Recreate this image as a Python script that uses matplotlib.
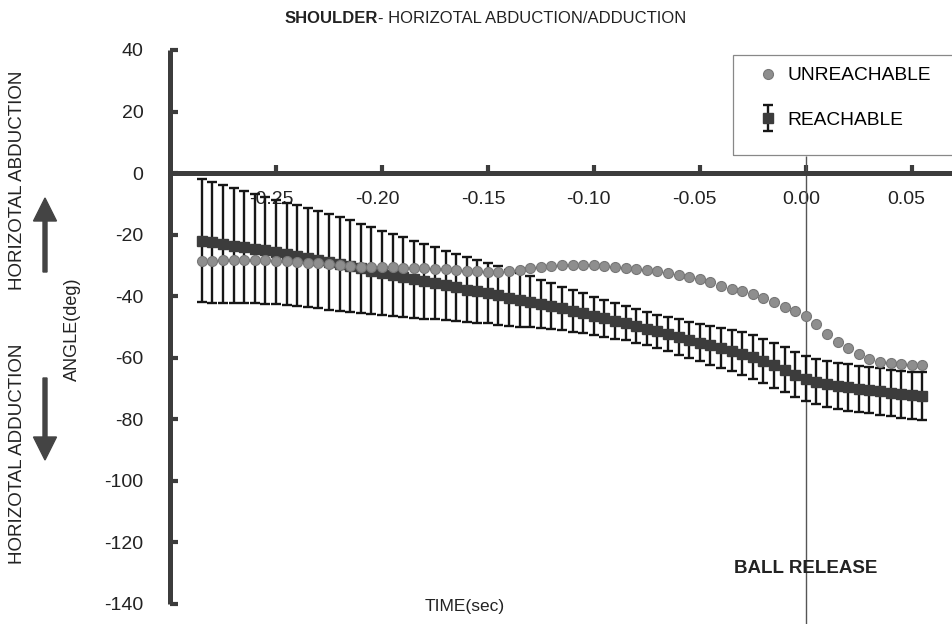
import matplotlib.pyplot as plt
import matplotlib.transforms as mtransforms
from matplotlib.patches import Rectangle, FancyArrow
from matplotlib.container import ErrorbarContainer
from matplotlib.legend_handler import HandlerErrorbar

plt.rcParams['font.family'] = ['Liberation Sans', 'DejaVu Sans']
plt.rcParams['axes.unicode_minus'] = False

# time relative to ball release (sec)
time = [-0.285, -0.280, -0.275, -0.270, -0.265, -0.260, -0.255, -0.250, -0.245, -0.240,
        -0.235, -0.230, -0.225, -0.220, -0.215, -0.210, -0.205, -0.200, -0.195, -0.190,
        -0.185, -0.180, -0.175, -0.170, -0.165, -0.160, -0.155, -0.150, -0.145, -0.140,
        -0.135, -0.130, -0.125, -0.120, -0.115, -0.110, -0.105, -0.100, -0.095, -0.090,
        -0.085, -0.080, -0.075, -0.070, -0.065, -0.060, -0.055, -0.050, -0.045, -0.040,
        -0.035, -0.030, -0.025, -0.020, -0.015, -0.010, -0.005, 0.000, 0.005, 0.010,
        0.015, 0.020, 0.025, 0.030, 0.035, 0.040, 0.045, 0.050, 0.055]

# reachable group: mean angle and SD (deg)
reach_mean = [-22.0, -22.5, -23.0, -23.6, -24.1, -24.6, -25.1, -25.7, -26.3, -26.9,
              -27.5, -28.2, -28.9, -29.6, -30.3, -31.0, -31.7, -32.4, -33.1, -33.8,
              -34.5, -35.2, -35.9, -36.5, -37.2, -37.9, -38.5, -39.1, -39.8, -40.5,
              -41.2, -41.9, -42.6, -43.3, -44.0, -44.8, -45.6, -46.4, -47.2, -48.0,
              -48.8, -49.7, -50.6, -51.5, -52.4, -53.3, -54.2, -55.1, -56.0, -56.9,
              -57.8, -58.7, -59.7, -61.0, -62.5, -64.0, -65.5, -66.8, -67.8, -68.6,
              -69.2, -69.7, -70.1, -70.6, -71.0, -71.5, -71.9, -72.3, -72.6]
reach_sd = [20.0, 19.6, 19.1, 18.6, 18.2, 17.8, 17.4, 17.0, 16.7, 16.4,
            16.1, 15.8, 15.5, 15.2, 14.9, 14.5, 14.1, 13.7, 13.3, 12.9,
            12.5, 12.1, 11.7, 11.3, 10.9, 10.5, 10.1, 9.8, 9.5, 9.1,
            8.7, 8.3, 7.9, 7.5, 7.1, 6.8, 6.5, 6.2, 6.0, 5.8,
            5.6, 5.5, 5.4, 5.4, 5.5, 5.7, 5.9, 6.1, 6.3, 6.5,
            6.7, 6.9, 7.1, 7.2, 7.3, 7.3, 7.3, 7.3, 7.4, 7.4,
            7.4, 7.5, 7.5, 7.5, 7.6, 7.6, 7.7, 7.7, 7.8]

# unreachable group: mean angle (deg)
unreach = [-28.5, -28.5, -28.4, -28.3, -28.3, -28.2, -28.3, -28.5, -28.7, -28.9,
           -29.2, -29.4, -29.7, -30.0, -30.2, -30.4, -30.5, -30.6, -30.7, -30.8,
           -30.9, -31.0, -31.1, -31.3, -31.5, -31.7, -31.9, -32.1, -32.2, -32.0,
           -31.5, -30.9, -30.5, -30.2, -30.0, -29.9, -29.8, -29.9, -30.1, -30.4,
           -30.8, -31.2, -31.6, -32.0, -32.5, -33.0, -33.7, -34.5, -35.4, -36.8,
           -37.6, -38.4, -39.2, -40.5, -42.0, -43.5, -45.0, -46.5, -49.2, -52.2,
           -54.8, -57.0, -58.8, -60.3, -61.3, -61.9, -62.2, -62.3, -62.3]

xticks = [-0.25, -0.20, -0.15, -0.10, -0.05, 0.00, 0.05]
yticks = [-140, -120, -100, -80, -60, -40, -20, 0, 20, 40]

dark = '#3c3c3c'
txt = '#222222'
px = mtransforms.IdentityTransform()

fig = plt.figure(figsize=(9.52, 6.24), dpi=100)
ax = fig.add_axes([170 / 952, 20.3 / 624, 782 / 952, 553.7 / 624])

reach = ax.errorbar(time, reach_mean, yerr=reach_sd, fmt='s', ms=7.5, color=dark, mec=dark,
                    ecolor='#161616', elinewidth=1.7, capsize=3.5, capthick=1.7, zorder=3)
unr, = ax.plot(time, unreach, 'o', ms=7.2, color='#8e8e8e', mec='#777777', mew=0.8, zorder=4)

ax.set_xlim(-0.30, 0.069)
ax.set_ylim(-140, 40)
ax.set_xticks(xticks)
ax.set_xticklabels([f'{v:.2f}' for v in xticks])
ax.set_yticks(yticks)
ax.set_yticklabels([str(v) for v in yticks])

for s in ['top', 'right']:
    ax.spines[s].set_visible(False)
ax.spines['bottom'].set_position(('data', 0))
for s in ['left', 'bottom']:
    ax.spines[s].set_linewidth(3.6)
    ax.spines[s].set_color(dark)
    ax.spines[s].set_capstyle('butt')

ax.tick_params(axis='x', direction='in', length=6, width=3, color=dark, pad=13,
               labelsize=14, labelcolor=txt)
ax.tick_params(axis='y', direction='in', length=6, width=3, color=dark, pad=19,
               labelsize=14, labelcolor=txt)
shift = mtransforms.ScaledTranslation(-0.05, 0, fig.dpi_scale_trans)
for lbl in ax.get_xticklabels():
    lbl.set_transform(lbl.get_transform() + shift)

# ball release marker
ax.vlines(0.0, -147, 5.5, colors='#555555', lw=1, clip_on=False, zorder=2)
ax.text(0.0, -128.4, 'BALL RELEASE', ha='center', va='center', weight='bold',
        size=13.5, color=txt)

# title: bold joint name followed by the motion
t1 = fig.text(285 / 952, 1 - 26 / 624, 'SHOULDER', weight='bold', size=12,
              ha='left', va='bottom', color=txt)
ax.annotate('- HORIZOTAL ABDUCTION/ADDUCTION', xy=(1, 0), xycoords=t1, size=12,
            ha='left', va='bottom', color=txt)

fig.text(465 / 952, 1 - 606 / 624, 'TIME(sec)', ha='center', va='center', size=12.5, color=txt)
fig.text(72.7 / 952, 1 - 329 / 624, 'ANGLE(deg)', rotation=90, ha='center', va='center',
         size=13, color=txt)
fig.text(18 / 952, 1 - 180 / 624, 'HORIZOTAL ABDUCTION', rotation=90, ha='center',
         va='center', size=13.5, color=txt)
fig.text(18 / 952, 1 - 454 / 624, 'HORIZOTAL ADDUCTION', rotation=90, ha='center',
         va='center', size=13.5, color=txt)

fig.add_artist(FancyArrow(45, 624 - 272, 0, 74, width=4, head_width=23, head_length=23,
                          length_includes_head=True, color='#444444', transform=px))
fig.add_artist(FancyArrow(45, 624 - 378, 0, -82, width=4, head_width=23, head_length=23,
                          length_includes_head=True, color='#444444', transform=px))

# legend with box running off the right edge
fig.add_artist(Rectangle((733, 624 - 155), 240, 100, facecolor='none', edgecolor='#888888',
                         lw=0.9, transform=px))
ax.legend([unr, reach], ['UNREACHABLE', 'REACHABLE'], loc='upper left',
          bbox_to_anchor=(758.6, 624 - 67), bbox_transform=px, frameon=False,
          fontsize=13.8, handlelength=1.0, handletextpad=0.5, labelspacing=1.4,
          borderpad=0, borderaxespad=0,
          handler_map={ErrorbarContainer: HandlerErrorbar(yerr_size=0.67)})

fig.savefig('out.png', dpi=100)
